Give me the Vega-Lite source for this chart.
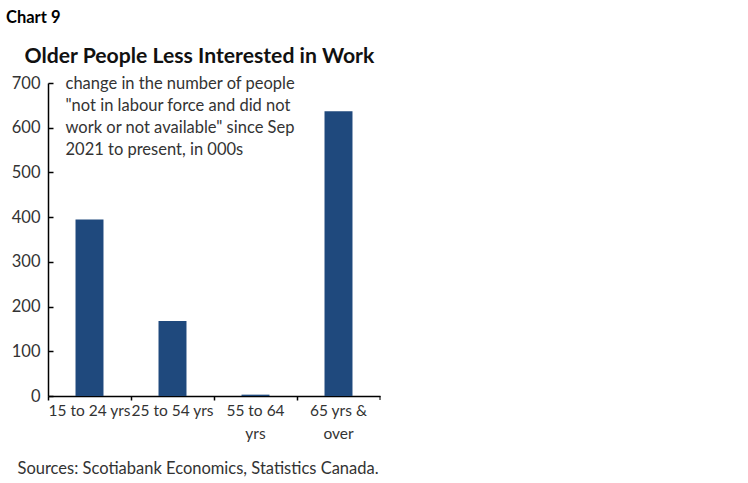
{
  "$schema": "https://vega.github.io/schema/vega-lite/v6.json",
  "autosize": "none",
  "width": 332,
  "height": 313,
  "padding": {"left": 48, "top": 83, "right": 368, "bottom": 87},
  "background": "white",
  "config": {
    "font": "Lato",
    "view": {"stroke": null},
    "axis": {"grid": false, "domainColor": "#000", "tickColor": "#000", "labelColor": "#333", "labelFont": "Lato", "titleFont": "Lato"}
  },
  "title": {
    "text": "Chart 9",
    "anchor": "start",
    "frame": "group",
    "dx": -42,
    "offset": 6,
    "baseline": "alphabetic",
    "fontSize": 16.5,
    "fontWeight": "bold",
    "color": "#000",
    "font": "Lato"
  },
  "data": {
    "values": [
      {"group": "15 to 24 yrs", "change": 395},
      {"group": "25 to 54 yrs", "change": 168},
      {"group": "55 to 64 yrs", "change": 3},
      {"group": "65 yrs & over", "change": 637}
    ]
  },
  "layer": [
    {
      "mark": {"type": "bar", "color": "#1f497d", "width": {"band": 0.337}},
      "encoding": {
        "x": {
          "field": "group",
          "type": "nominal",
          "sort": null,
          "scale": {"paddingInner": 0, "paddingOuter": 0},
          "axis": {
            "bandPosition": 0,
            "labelAngle": 0,
            "labelPadding": 3,
            "labelFontSize": 15.5,
            "labelLineHeight": 23,
            "labelExpr": "datum.value == '55 to 64 yrs' ? ['55 to 64', 'yrs'] : datum.value == '65 yrs & over' ? ['65 yrs &', 'over'] : datum.value",
            "tickSize": 4,
            "tickWidth": 1.5,
            "domainWidth": 1.5,
            "title": "Sources: Scotiabank Economics, Statistics Canada.",
            "titleX": -31,
            "titleY": 77,
            "titleAlign": "left",
            "titleBaseline": "alphabetic",
            "titleFontSize": 16.5,
            "titleFontWeight": "normal",
            "titleColor": "#333"
          }
        },
        "y": {
          "field": "change",
          "type": "quantitative",
          "scale": {"domain": [0, 700], "nice": false},
          "axis": {
            "values": [0, 100, 200, 300, 400, 500, 600, 700],
            "tickSize": -5,
            "tickWidth": 1.5,
            "domainWidth": 1.5,
            "labelPadding": 13,
            "labelFontSize": 16.5,
            "title": "Older People Less Interested in Work",
            "titleAngle": 0,
            "titleX": -24,
            "titleY": -21,
            "titleAlign": "left",
            "titleBaseline": "alphabetic",
            "titleFontSize": 21.2,
            "titleFontWeight": "bold",
            "titleColor": "#111"
          }
        }
      }
    },
    {
      "data": {"values": [{"end": "65 yrs & over", "base": 0}]},
      "mark": {"type": "tick", "orient": "vertical", "color": "#000", "size": 4, "thickness": 1.5, "yOffset": 2},
      "encoding": {
        "x": {"field": "end", "type": "nominal", "bandPosition": 1},
        "y": {"field": "base", "type": "quantitative"}
      }
    },
    {
      "data": {"values": [{"note": ["change in the number of people", "\"not in labour force and did not", "work or not available\" since Sep", "2021 to present, in 000s"]}]},
      "mark": {"type": "text", "align": "left", "baseline": "top", "dx": -24, "dy": -7, "fontSize": 16.5, "lineHeight": 22, "color": "#333", "font": "Lato"},
      "encoding": {
        "text": {"field": "note"},
        "x": {"datum": "15 to 24 yrs"},
        "y": {"datum": 700}
      }
    }
  ]
}
